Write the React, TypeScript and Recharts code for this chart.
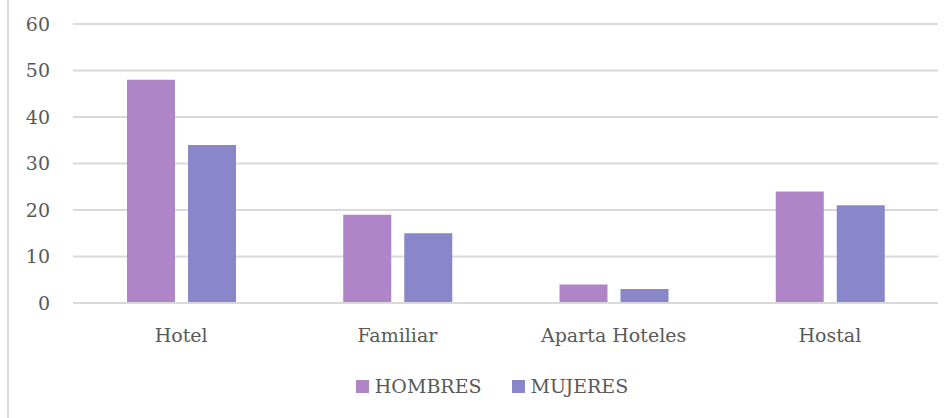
import React from 'react'
import { BarChart, Bar, XAxis, YAxis, CartesianGrid, Legend } from 'recharts'

const CATEGORIES = ['Hotel', 'Familiar', 'Aparta Hoteles', 'Hostal']
const HOMBRES = [48, 19, 4, 24]
const MUJERES = [34, 15, 3, 21]
const Y_TICKS = [0, 10, 20, 30, 40, 50, 60]

const SERIES = [
  { key: 'HOMBRES', color: '#ae85c6' },
  { key: 'MUJERES', color: '#8987c9' },
]

const FONT = '"DejaVu Serif", serif'
const TEXT = '#595959'

const data = CATEGORIES.map((name, i) => ({
  name,
  HOMBRES: HOMBRES[i],
  MUJERES: MUJERES[i],
}))

function LegendContent() {
  return (
    <div style={{ display: 'flex', justifyContent: 'center', alignItems: 'center', height: 22, gap: 30, paddingLeft: 32, fontFamily: FONT, fontSize: 19, color: TEXT }}>
      {SERIES.map((s) => (
        <div key={s.key} style={{ display: 'flex', alignItems: 'center' }}>
          <span style={{ width: 13, height: 13, background: s.color, marginRight: 6, display: 'inline-block' }} />
          <span>{s.key}</span>
        </div>
      ))}
    </div>
  )
}

export default function App() {
  return (
    <div style={{ position: 'absolute', left: 0, top: 0, width: 952, height: 418, background: '#fff', overflow: 'hidden' }}>
      <div style={{ position: 'absolute', left: 7, top: 0, width: 2, height: 418, background: '#d9d9d9' }} />
      <BarChart
        width={952}
        height={418}
        data={data}
        margin={{ top: 24, right: 14, left: 0, bottom: 43 }}
        barGap={13}
      >
        <CartesianGrid vertical={false} stroke="#d9d9d9" strokeWidth={2} />
        <XAxis
          dataKey="name"
          axisLine={{ stroke: '#d9d9d9', strokeWidth: 2 }}
          tickLine={false}
          tickSize={0}
          tickMargin={26}
          height={50}
          tick={{ fill: TEXT, fontFamily: FONT, fontSize: 19 }}
        />
        <YAxis
          domain={[0, 60]}
          ticks={Y_TICKS}
          axisLine={false}
          tickLine={false}
          tickSize={0}
          tickMargin={23}
          width={73}
          tick={{ fill: TEXT, fontFamily: FONT, fontSize: 19 }}
        />
        <Legend content={<LegendContent />} wrapperStyle={{ top: 375, left: 0, width: 952, height: 22 }} />
        {SERIES.map((s) => (
          <Bar key={s.key} dataKey={s.key} fill={s.color} barSize={48} isAnimationActive={false} />
        ))}
      </BarChart>
    </div>
  )
}
